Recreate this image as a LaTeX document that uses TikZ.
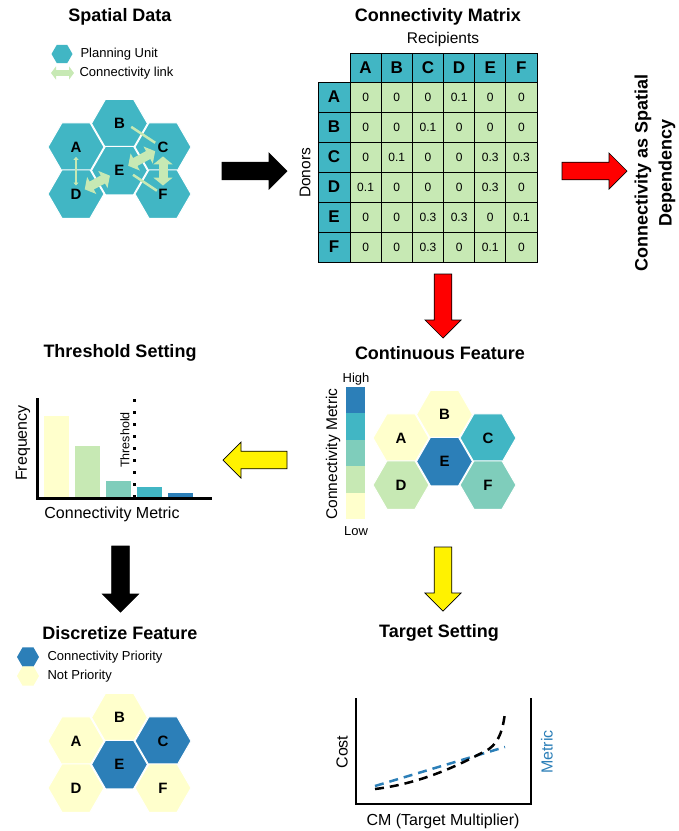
\documentclass[tikz,border=0pt]{standalone}
\usepackage{fontspec}
\setmainfont{Liberation Sans}
\usetikzlibrary{shapes.geometric,arrows.meta,calc}
\definecolor{cyel}{HTML}{FFFFCC}
\definecolor{cgrn}{HTML}{C7E9B4}
\definecolor{cmnt}{HTML}{7FCDBB}
\definecolor{ctea}{HTML}{41B6C4}
\definecolor{cblu}{HTML}{2C7FB8}
\newcommand\fsz[1]{\fontsize{#1}{#1}\selectfont}
% x y length angle colour
\newcommand\blockarr[5]{%
  \begin{scope}[shift={(#1,#2)},rotate=#4]
    \draw[fill=#5,draw=black,line width=0.7pt,line join=miter]
      (0,-8.8) -- (#3-18,-8.8) -- (#3-18,-18) -- (#3,0) -- (#3-18,18) -- (#3-18,8.8) -- (0,8.8) -- cycle;
  \end{scope}}
\tikzset{
  title/.style={font=\fsz{18}\bfseries},
  lbl/.style={font=\fsz{15.5}},
  small/.style={font=\fsz{13}},
  hexa/.style={regular polygon,regular polygon sides=6,minimum size=56pt,inner sep=0pt,
     draw=white,line width=1pt,font=\fsz{15}\bfseries},
  minihex/.style={regular polygon,regular polygon sides=6,minimum size=22pt,inner sep=0pt},
  cell/.style={draw=black,line width=0.8pt,minimum width=31.17pt,minimum height=30pt,inner sep=0pt},
  fatlink/.style={draw=cgrn,line width=9pt,{Triangle[width=19pt,length=8pt]}-{Triangle[width=19pt,length=8pt]}},
  thinlink/.style={draw=cgrn,line width=2.5pt},
}
\begin{document}
\begin{tikzpicture}[x=1pt,y=-1pt]
\useasboundingbox (0,0) rectangle (679,831);
\fill[white] (0,0) rectangle (679,831);

% ---------------- Spatial Data ----------------
\node[title] (tSD) at (120,17) {Spatial Data};
\node[minihex,fill=ctea,minimum size=21pt] (lgHex) at (62,54) {};
\node[small,anchor=west] (lgHexT) at (77,54) {Planning Unit};
\coordinate (lgA1) at (51,73);
\coordinate (lgA2) at (74,73);
\draw[draw=cgrn,line width=6pt,{Triangle[width=13pt,length=5pt]}-{Triangle[width=13pt,length=5pt]}] (lgA1) -- (lgA2);
\node[small,anchor=west] (lgLinkT) at (76,73) {Connectivity link};

\node[hexa,fill=ctea] (sA) at (76,147) {A};
\node[hexa,fill=ctea] (sB) at (119.5,123.5) {B};
\node[hexa,fill=ctea] (sC) at (163,147) {C};
\node[hexa,fill=ctea] (sD) at (76,194) {D};
\node[hexa,fill=ctea] (sE) at (119.5,170.5) {E};
\node[hexa,fill=ctea] (sF) at (163,194) {F};

\draw[thinlink] ($(sB)!0.27!(sC)+(0,-3)$) -- ($(sB)!0.82!(sC)$);
\draw[thinlink] ($(sE)!0.31!(sF)+(0,-3)$) -- ($(sE)!0.86!(sF)$);
\draw[draw=cgrn,line width=2pt,{Triangle[width=5pt,length=3pt]}-{Triangle[width=5pt,length=3pt]}] ($(sA)!0.21!(sD)$) -- ($(sA)!0.82!(sD)$);
\draw[fatlink] ($(sD)!0.2!(sE)$) -- ($(sD)!0.78!(sE)$);
\draw[fatlink] ($(sE)!0.2!(sC)$) -- ($(sE)!0.82!(sC)$);
\draw[fatlink] ($(sC)!0.2!(sF)$) -- ($(sC)!0.82!(sF)$);

% ---------------- Connectivity Matrix ----------------
\node[title] (tCM) at (438,17) {Connectivity Matrix};
\node[lbl] (tRec) at (443,39) {Recipients};
\node[lbl,rotate=90] (tDon) at (305,173) {Donors};
\foreach \c [count=\i from 0] in {A,B,C,D,E,F} {
  \node[cell,fill=ctea,minimum height=29pt,font=\fsz{17}\bfseries] (h-\i) at (350+31.17*\i+15.585,67.5) {\c};
  \node[cell,fill=ctea,minimum width=32pt,font=\fsz{17}\bfseries] (r-\i) at (334,97+30*\i) {\c};
}
\foreach \row [count=\r from 0] in {{0,0,0,0.1,0,0},{0,0,0.1,0,0,0},{0,0.1,0,0,0.3,0.3},{0.1,0,0,0,0.3,0},{0,0,0.3,0.3,0,0.1},{0,0,0.3,0,0.1,0}} {
  \foreach \v [count=\cc from 0] in \row {
    \node[cell,fill=cgrn,font=\fsz{12}] (m-\r-\cc) at (350+31.17*\cc+15.585,97+30*\r) {\v};
  }
}

% ---------------- Block arrows ----------------
\blockarr{222}{171}{65}{0}{black}
\blockarr{562}{171}{65}{0}{red}
\blockarr{443}{274}{64}{-90}{red}
\blockarr{287}{460}{64}{180}{yellow}
\blockarr{443}{547}{64}{-90}{yellow}
\blockarr{120.5}{546}{66}{-90}{black}

\node[font=\fontsize{18}{24}\selectfont\bfseries,rotate=90,align=center] (tDep) at (655,173) {Connectivity as Spatial\\Dependency};

% ---------------- Continuous Feature ----------------
\node[title] (tCF) at (440,353) {Continuous Feature};
\fill[cblu] (346,387) rectangle (365,413.4);
\fill[ctea] (346,413.4) rectangle (365,439.8);
\fill[cmnt] (346,439.8) rectangle (365,466.2);
\fill[cgrn] (346,466.2) rectangle (365,492.6);
\fill[cyel] (346,492.6) rectangle (365,519);
\node[small] (tHigh) at (356,379) {High};
\node[small] (tLow) at (356,531) {Low};
\node[lbl,rotate=90] (tCMet) at (333,454) {Connectivity Metric};

\node[hexa,fill=cyel] (cA) at (401,438) {A};
\node[hexa,fill=cyel] (cB) at (444.5,414.5) {B};
\node[hexa,fill=ctea] (cC) at (488,438) {C};
\node[hexa,fill=cgrn] (cD) at (401,485) {D};
\node[hexa,fill=cblu] (cE) at (444.5,461.5) {E};
\node[hexa,fill=cmnt] (cF) at (488,485) {F};

% ---------------- Threshold Setting ----------------
\node[title] (tTS) at (120,353) {Threshold Setting};
\fill[cyel] (44,416) rectangle (69,497);
\fill[cgrn] (75,446) rectangle (100,497);
\fill[cmnt] (106,481) rectangle (131,497);
\fill[ctea] (137,487) rectangle (162,497);
\fill[cblu] (168,493) rectangle (193,497);
\draw[line width=3pt,dash pattern=on 3pt off 9pt] (134,399) -- (134,497);
\draw[line width=3pt] (37,398) -- (37,498) -- (212,498);
\node[font=\fsz{12.5},rotate=90] (tThr) at (125,440) {Threshold};
\node[font=\fsz{16},rotate=90] (tFreq) at (23,443) {Frequency};
\node[font=\fsz{16}] (tTCM) at (112,514) {Connectivity Metric};

% ---------------- Discretize Feature ----------------
\node[title] (tDF) at (120,633) {Discretize Feature};
\node[minihex,fill=cblu] (dlg1) at (28,657) {};
\node[small,anchor=west] (dlg1T) at (44,657) {Connectivity Priority};
\node[minihex,fill=cyel] (dlg2) at (28,676) {};
\node[small,anchor=west] (dlg2T) at (44,676) {Not Priority};

\node[hexa,fill=cyel] (dA) at (76,741) {A};
\node[hexa,fill=cyel] (dB) at (119.5,717.5) {B};
\node[hexa,fill=cblu] (dC) at (163,741) {C};
\node[hexa,fill=cyel] (dD) at (76,788) {D};
\node[hexa,fill=cblu] (dE) at (119.5,764.5) {E};
\node[hexa,fill=cyel] (dF) at (163,788) {F};

% ---------------- Target Setting ----------------
\node[title] (tTgS) at (439,633) {Target Setting};
\draw[cblu,line width=2.5pt,dash pattern=on 9pt off 6pt] (375,786) -- (505,747);
\draw[black,line width=2.5pt,dash pattern=on 9pt off 6pt] (375,789) .. controls (425,783) and (465,762) .. (489,749) .. controls (500,741) and (503,728) .. (505,713);
\draw[line width=2pt] (356,698) -- (356,804) -- (531,804) -- (531,698);
\node[font=\fsz{16},rotate=90] (tCost) at (342,752) {Cost};
\node[font=\fsz{16},rotate=90,text=cblu] (tMet) at (547,752) {Metric};
\node[font=\fsz{16}] (tCMx) at (443,821) {CM (Target Multiplier)};
\end{tikzpicture}
\end{document}
